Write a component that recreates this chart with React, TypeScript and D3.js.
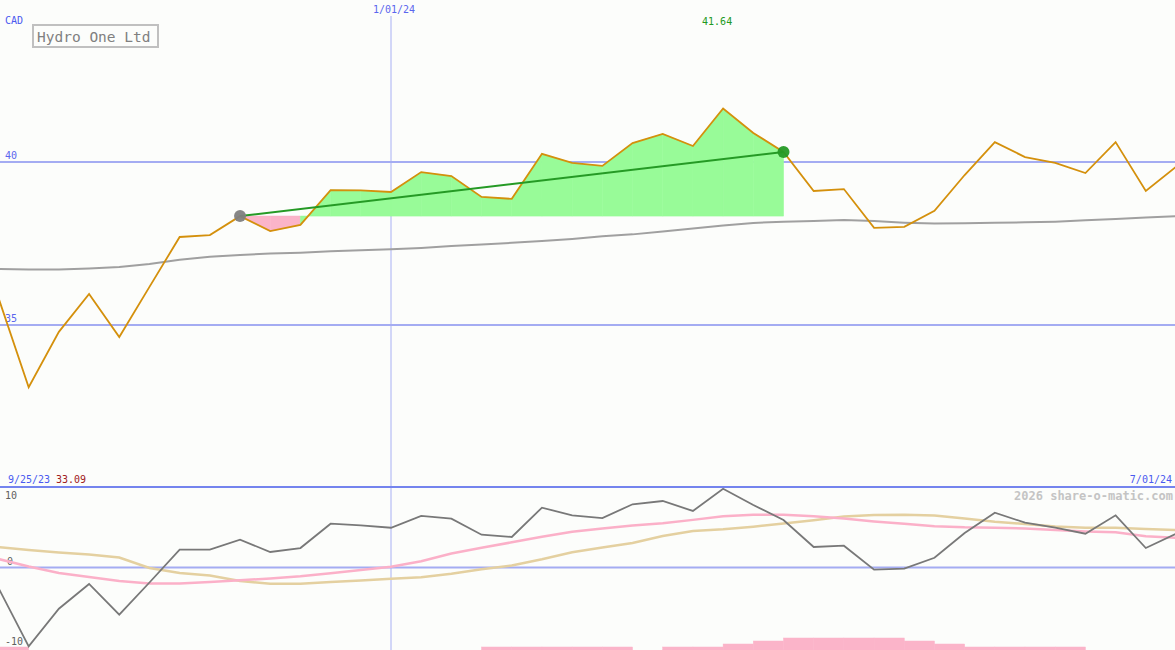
import React from "react";
import * as d3 from "d3";

const W = 1175;
const H = 650;

const startDate = new Date(2023, 9, 2);
const endDate = new Date(2024, 6, 1);

// weekly closing prices (CAD)
const prices = [
  35.83, 33.09, 34.79, 35.95, 34.63, 36.17, 37.7, 37.76, 38.34, 37.88,
  38.07, 39.14, 39.13, 39.08, 39.69, 39.57, 38.93, 38.87, 40.25, 39.97,
  39.88, 40.58, 40.86, 40.49, 41.64, 40.89, 40.31, 39.11, 39.17, 37.98,
  38.01, 38.5, 39.6, 40.61, 40.15, 39.97, 39.66, 40.61, 39.11, 39.85,
];

// long moving average
const longAvg = [
  36.72, 36.7, 36.7, 36.73, 36.78, 36.87, 37.0, 37.09, 37.15, 37.19,
  37.22, 37.26, 37.29, 37.32, 37.36, 37.42, 37.47, 37.52, 37.58, 37.64,
  37.72, 37.78, 37.87, 37.96, 38.05, 38.13, 38.17, 38.19, 38.22, 38.19,
  38.14, 38.11, 38.12, 38.14, 38.15, 38.17, 38.21, 38.25, 38.3, 38.34,
];

// oscillator panel
const oscMain = [
  -2.79, -10.72, -5.61, -2.24, -6.42, -2.04, 2.42, 2.42, 3.78, 2.11,
  2.65, 5.96, 5.74, 5.41, 7.01, 6.64, 4.46, 4.15, 8.14, 7.1,
  6.73, 8.6, 9.05, 7.69, 10.72, 8.5, 6.46, 2.79, 2.97, -0.3,
  -0.16, 1.33, 4.69, 7.46, 6.1, 5.41, 4.6, 7.1, 2.65, 4.6,
];
const oscPink = [
  1.16, 0.14, -0.75, -1.29, -1.84, -2.18, -2.18, -1.97, -1.74, -1.5,
  -1.2, -0.78, -0.34, 0.1, 0.84, 1.9, 2.68, 3.43, 4.19, 4.86,
  5.32, 5.7, 6.03, 6.48, 6.97, 7.16, 7.17, 6.97, 6.67, 6.27,
  5.96, 5.61, 5.46, 5.41, 5.32, 5.1, 4.91, 4.8, 4.26, 4.04,
];
const oscTan = [
  2.79, 2.38, 2.04, 1.77, 1.36, -0.07, -0.75, -1.09, -1.84, -2.2,
  -2.2, -1.97, -1.77, -1.54, -1.31, -0.84, -0.24, 0.27, 1.12, 2.07,
  2.72, 3.33, 4.29, 4.95, 5.2, 5.56, 5.99, 6.42, 6.93, 7.14,
  7.18, 7.07, 6.67, 6.23, 5.92, 5.59, 5.41, 5.41, 5.24, 5.1,
];
// bottom histogram (per week)
const bars = [
  1, 0, 0, 0, 0, 0, 0, 0, 0, 0,
  0, 0, 0, 0, 0, 0, 1, 1, 1, 1,
  1, 0, 1, 1, 2, 3, 4, 4, 4, 4,
  3, 2, 1, 1, 1, 1, 0, 0, 0, 0,
];

const priceTicks = [40, 35];
const oscTicks = [
  { v: 10, label: "10", dx: 5, dy: 5 },
  { v: 0, label: "0", dx: 7, dy: -3 },
  { v: -10, label: "-10", dx: 5, dy: 4 },
];
const trendStart = 8;
const trendEnd = 26;
const markDateIndex = 13;
const maxLabel = "41.64";
const minLabel = "33.09";

const dates = prices.map((_, i) => d3.timeWeek.offset(startDate, i));

const FONT = "'DejaVu Sans Mono', monospace";

export default function App() {
  const x = d3.scaleTime().domain([startDate, endDate]).range([-1.5, 1176]);
  const y = d3.scaleLinear().domain([35, 40]).range([325, 162]);
  const yo = d3.scaleLinear().domain([-10, 10]).range([641, 494]);
  const yb = d3.scaleLinear().domain([0, 4]).range([650, 638]);

  const line = d3
    .line<number>()
    .x((_, i) => x(dates[i]))
    .y((d) => y(d));
  const oline = d3
    .line<number>()
    .x((_, i) => x(dates[i]))
    .y((d) => yo(d));

  const base = prices[trendStart];
  const segs: { d: string; up: boolean }[] = [];
  for (let i = trendStart; i < trendEnd; i++) {
    const pts: [Date, number][] = [
      [dates[i], prices[i]],
      [dates[i + 1], prices[i + 1]],
    ];
    const a = d3
      .area<[Date, number]>()
      .x((p) => x(p[0]))
      .y0(y(base))
      .y1((p) => y(p[1]));
    segs.push({ d: a(pts) || "", up: prices[i + 1] >= base });
  }

  const xm = x(dates[markDateIndex]);
  const xMax = x(dates[prices.indexOf(d3.max(prices) as number)]);

  return (
    <svg
      width={W}
      height={H}
      style={{ position: "fixed", left: 0, top: 0, background: "#fcfdfb" }}
      fontFamily={FONT}
    >
      <rect x={0} y={0} width={W} height={H} fill="#fcfdfb" />
      {/* vertical date line */}
      <line x1={xm} x2={xm} y1={16} y2={H} stroke="#a8b0f4" strokeWidth={1} />
      {/* price grid */}
      {priceTicks.map((t) => (
        <g key={t}>
          <line x1={0} x2={W} y1={y(t)} y2={y(t)} stroke="#a4acf2" strokeWidth={2} />
          <text x={5} y={y(t) - 3} fontSize={10} fill="#5a66ee">
            {t}
          </text>
        </g>
      ))}
      {/* fill */}
      {segs.map((s, i) => (
        <path
          key={i}
          d={s.d}
          fill={s.up ? "#98fb98" : "#fbb4c9"}
          stroke={s.up ? "#98fb98" : "#fbb4c9"}
          strokeWidth={0.6}
        />
      ))}
      {/* long average */}
      <path d={line(longAvg) || ""} fill="none" stroke="#a0a0a0" strokeWidth={2} />
      {/* price */}
      <path d={line(prices) || ""} fill="none" stroke="#d4900c" strokeWidth={1.8} />
      {/* trend */}
      <line
        x1={x(dates[trendStart])}
        y1={y(prices[trendStart])}
        x2={x(dates[trendEnd])}
        y2={y(prices[trendEnd])}
        stroke="#259a25"
        strokeWidth={2}
      />
      <circle cx={x(dates[trendStart])} cy={y(prices[trendStart])} r={6} fill="#808080" opacity={0.95} />
      <circle cx={x(dates[trendEnd])} cy={y(prices[trendEnd])} r={6} fill="#259a25" opacity={0.95} />

      {/* labels top */}
      <text x={5} y={24} fontSize={10} fill="#4a5af0">CAD</text>
      <rect x={33} y={25} width={125} height={22} fill="#fcfdfb" stroke="#c0c0c0" strokeWidth={2} />
      <text x={37} y={41.5} fontSize={14.5} fill="#808080">Hydro One Ltd</text>
      <text x={xm + 3} y={13} fontSize={10} fill="#5a66ee" textAnchor="middle">1/01/24</text>
      <text x={xMax - 6} y={25} fontSize={10} fill="#229922" textAnchor="middle">{maxLabel}</text>

      {/* separator */}
      <line x1={0} x2={W} y1={487} y2={487} stroke="#7484ee" strokeWidth={2} />
      <text x={8} y={483} fontSize={10} fill="#4a5af0">9/25/23</text>
      <text x={56} y={483} fontSize={10} fill="#a02020">{minLabel}</text>
      <text x={1172} y={483} fontSize={10} fill="#4a5af0" textAnchor="end">7/01/24</text>
      <text x={1173} y={500} fontSize={12} fontWeight="bold" fill="#c4c4c4" textAnchor="end">
        2026 share-o-matic.com
      </text>

      {/* oscillator panel */}
      <line x1={0} x2={W} y1={yo(0)} y2={yo(0)} stroke="#a4acf2" strokeWidth={2} />
      {oscTicks.map((t) => (
        <text key={t.label} x={t.dx} y={yo(t.v) + t.dy} fontSize={10} fill="#606060">
          {t.label}
        </text>
      ))}
      {bars.map((b, i) =>
        b > 0 && i + 1 < dates.length ? (
          <rect
            key={i}
            x={x(dates[i])}
            width={x(dates[i + 1]) - x(dates[i])}
            y={yb(b)}
            height={yb(0) - yb(b)}
            fill="#fbb4c9"
            stroke="#fbb4c9"
            strokeWidth={0.5}
          />
        ) : null
      )}
      <path d={oline(oscTan) || ""} fill="none" stroke="#e4d0a0" strokeWidth={2.5} />
      <path d={oline(oscPink) || ""} fill="none" stroke="#fbb0c8" strokeWidth={2.5} />
      <path d={oline(oscMain) || ""} fill="none" stroke="#787878" strokeWidth={1.8} />
    </svg>
  );
}
